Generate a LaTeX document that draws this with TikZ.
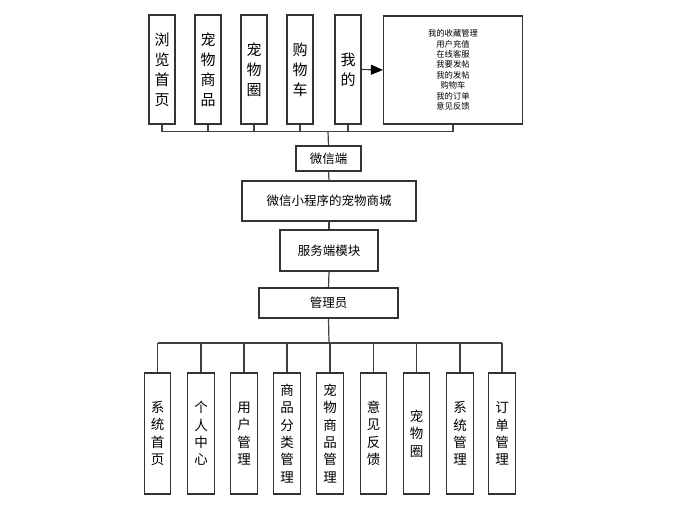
\documentclass[tikz,border=0pt]{standalone}
\usepackage{fontspec}
\setmainfont{Noto Sans CJK SC}
\usetikzlibrary{arrows.meta}
\begin{document}
\begin{tikzpicture}[x=1pt,y=-1pt,
  box/.style={draw=black!80,line width=1.2pt,fill=white,inner sep=0pt,align=center},
  topbox/.style={box,minimum width=26pt,minimum height=109pt,font=\fontsize{15}{20}\selectfont},
  botbox/.style={box,minimum width=26.5pt,minimum height=121pt,font=\fontsize{13.5}{17.4}\selectfont},
  midbox/.style={box,font=\fontsize{12.5}{15}\selectfont},
  conn/.style={draw=black!75,line width=1.2pt}]
\useasboundingbox (0,0) rectangle (685,514);
% top row
\node[topbox] (t1) at (162,69.5) {浏\\览\\首\\页};
\node[topbox] (t2) at (208,69.5) {宠\\物\\商\\品};
\node[topbox] (t3) at (254,69.5) {宠\\物\\圈};
\node[topbox] (t4) at (300,69.5) {购\\物\\车};
\node[topbox] (t5) at (348,69.5) {我\\的};
\node[box,minimum width=139pt,minimum height=108pt,font=\fontsize{8.3}{10.4}\selectfont] (big) at (453,70)
  {我的收藏管理\\用户充值\\在线客服\\我要发帖\\我的发帖\\购物车\\我的订单\\意见反馈};
\draw[conn,-{Triangle[length=12pt,width=10pt,color=black]}] (t5.east) -- (big.west);
\coordinate (tb) at (328,131.5);
\foreach \n in {t1,t2,t3,t4,t5,big}{\draw[conn] (\n.south) -- (\n.south |- tb);}
\draw[conn] (t1.south |- tb) -- (big.south |- tb);
% middle chain
\node[midbox,minimum width=65pt,minimum height=25pt] (wx) at (328.5,158.5) {微信端};
\node[midbox,minimum width=174pt,minimum height=40pt] (mall) at (329,201) {微信小程序的宠物商城};
\node[midbox,minimum width=98pt,minimum height=41pt] (srv) at (329,250.5) {服务端模块};
\node[midbox,minimum width=139pt,minimum height=30pt] (adm) at (328.5,303) {管理员};
\draw[conn] (tb) -- (wx.north);
\draw[conn] (wx.south) -- (mall.north);
\draw[conn] (mall.south) -- (srv.north);
\draw[conn] (srv.south) -- (adm.north);
% bottom row
\node[botbox] (b1) at (157.5,433.5) {系\\统\\首\\页};
\node[botbox] (b2) at (201,433.5) {个\\人\\中\\心};
\node[botbox] (b3) at (244,433.5) {用\\户\\管\\理};
\node[botbox] (b4) at (287,433.5) {商\\品\\分\\类\\管\\理};
\node[botbox] (b5) at (330,433.5) {宠\\物\\商\\品\\管\\理};
\node[botbox] (b6) at (373.5,433.5) {意\\见\\反\\馈};
\node[botbox] (b7) at (416.5,433.5) {宠\\物\\圈};
\node[botbox] (b8) at (460,433.5) {系\\统\\管\\理};
\node[botbox] (b9) at (502,433.5) {订\\单\\管\\理};
\coordinate (bb) at (329,343);
\draw[conn] (adm.south) -- (bb);
\foreach \n in {b1,b2,b3,b4,b5,b6,b7,b8,b9}{\draw[conn] (\n.north) -- (\n.north |- bb);}
\draw[conn] (b1.north |- bb) -- (b9.north |- bb);
\end{tikzpicture}
\end{document}
